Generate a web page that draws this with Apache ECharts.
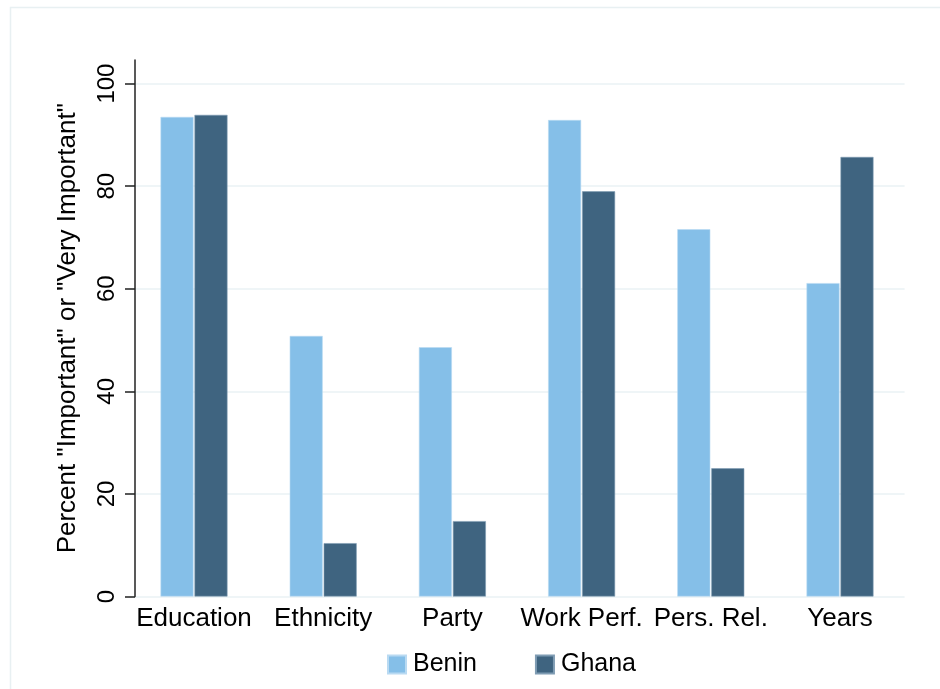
<!DOCTYPE html>
<html>
<head>
<meta charset="utf-8">
<script src="https://cdn.jsdelivr.net/npm/echarts@6/dist/echarts.min.js"></script>
<style>html,body{margin:0;padding:0;background:#fff}#c{width:940px;height:689px}</style>
</head>
<body>
<div id="c"></div>
<script>
var categories = ['Education', 'Ethnicity', 'Party', 'Work Perf.', 'Pers. Rel.', 'Years'];
var benin = [93.5, 50.8, 48.6, 92.9, 71.6, 61.1];
var ghana = [93.9, 10.4, 14.7, 79.0, 25.0, 85.7];
var yTicks = [0, 20, 40, 60, 80, 100];
var yTitle = 'Percent "Important" or "Very Important"';

var FONT = 'Liberation Sans';
var chart = echarts.init(document.getElementById('c'), null, {renderer: 'canvas'});
chart.setOption({
  animation: false,
  backgroundColor: '#ffffff',
  textStyle: {fontFamily: FONT},
  graphic: [{
    type: 'rect', left: 8, top: 5, silent: true,
    shape: {width: 960, height: 720},
    style: {fill: 'none', stroke: '#e8f0f2', lineWidth: 1.5}
  }],
  grid: {left: 129.4, right: 35.4, top: 60, bottom: 92.5, containLabel: false},
  legend: {
    bottom: 7, left: 382,
    itemWidth: 18, itemHeight: 18, itemGap: 58,
    icon: 'rect',
    textStyle: {fontFamily: FONT, fontSize: 25, color: '#000', padding: [0, 0, 0, 2]},
    data: ['Benin', 'Ghana']
  },
  xAxis: {
    type: 'category',
    data: categories,
    axisLine: {show: false},
    axisTick: {show: false},
    axisLabel: {fontFamily: FONT, fontSize: 26, color: '#000', margin: 9, interval: 0}
  },
  yAxis: {
    type: 'value',
    min: 0, max: 104.6, interval: 20,
    offset: -5.6,
    name: yTitle,
    nameLocation: 'middle',
    nameGap: 54,
    nameTextStyle: {fontFamily: FONT, fontSize: 26, color: '#000'},
    axisLine: {show: true, lineStyle: {color: '#222', width: 1.5}},
    axisTick: {show: true, length: 10, customValues: yTicks, lineStyle: {color: '#222', width: 1.5}},
    axisLabel: {customValues: yTicks, rotate: 90, fontFamily: FONT, fontSize: 24, color: '#000', margin: 16},
    splitLine: {show: true, lineStyle: {color: '#eaf2f4', width: 1.5}}
  },
  series: [
    {name: 'Benin', type: 'bar', data: benin, barWidth: 33, barGap: '3%',
     itemStyle: {color: '#85bfe8', borderColor: '#b9daf2', borderWidth: 0.6}},
    {name: 'Ghana', type: 'bar', data: ghana, barWidth: 33, barGap: '3%',
     itemStyle: {color: '#3f6480', borderColor: '#7f9cb3', borderWidth: 0.6}}
  ]
});
</script>
</body>
</html>
